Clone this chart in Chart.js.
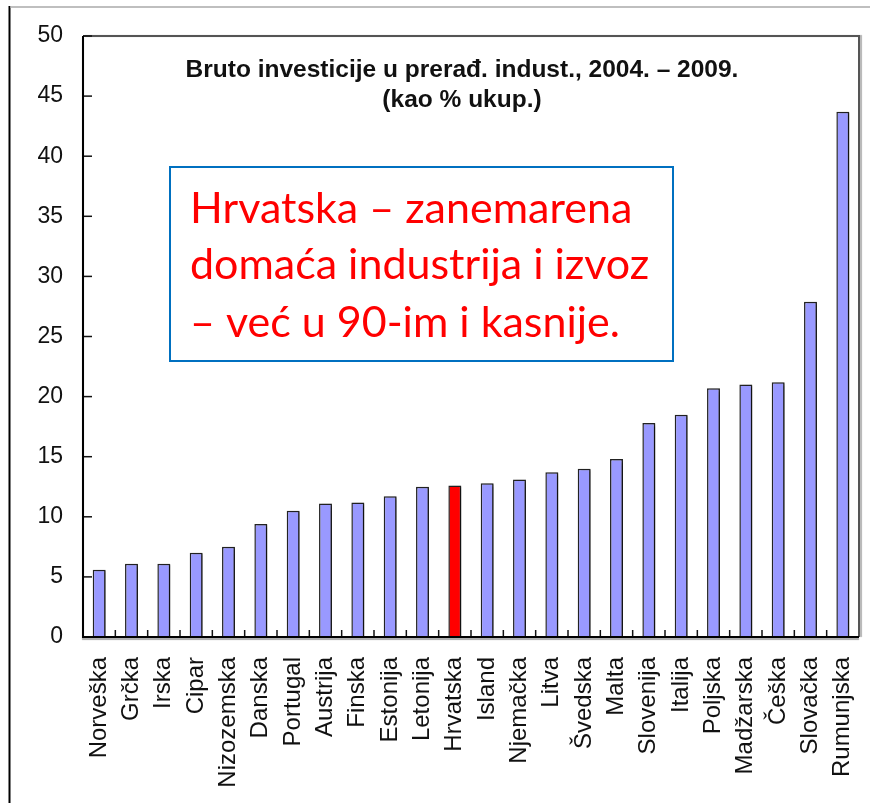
<!DOCTYPE html>
<html>
<head>
<meta charset="utf-8">
<script src="https://cdn.jsdelivr.net/npm/chart.js@4.4.1/dist/chart.umd.min.js"></script>
<style>
  html, body { margin: 0; padding: 0; background: #fff; }
  canvas { display: block; }
</style>
</head>
<body>
<canvas id="chart" width="870" height="803"></canvas>
<script>
// Bruto investicije u prerađivačku industriju, 2004. - 2009. (% ukupnih investicija)
const zemlje = ['Norveška', 'Grčka', 'Irska', 'Cipar', 'Nizozemska', 'Danska', 'Portugal', 'Austrija',
  'Finska', 'Estonija', 'Letonija', 'Hrvatska', 'Island', 'Njemačka', 'Litva', 'Švedska', 'Malta',
  'Slovenija', 'Italija', 'Poljska', 'Madžarska', 'Češka', 'Slovačka', 'Rumunjska'];
const udio = [5.6, 6.1, 6.1, 7.0, 7.5, 9.4, 10.5, 11.1, 11.2, 11.7, 12.5, 12.6, 12.8, 13.1, 13.7,
  14.0, 14.8, 17.8, 18.5, 20.7, 21.0, 21.2, 27.9, 43.7];
const yOznake = [0, 5, 10, 15, 20, 25, 30, 35, 40, 45, 50];
const naslov = ['Bruto investicije u prerađ. indust., 2004. – 2009.', '(kao % ukup.)'];
const poruka = ['Hrvatska – zanemarena', 'domaća industrija i izvoz', '– već u 90-im i kasnije.'];
const istaknuta = 'Hrvatska';

const boje = zemlje.map(z => z === istaknuta ? '#FF0000' : '#9999FF');

// okvir, unutarnje crtice, sjena stupaca, naslov i okvir s porukom
const ukrasi = {
  id: 'ukrasi',
  beforeDatasetsDraw(chart) {
    const { ctx, chartArea: a, scales: { x, y } } = chart;
    ctx.save();
    // rub slajda
    ctx.strokeStyle = '#000';
    ctx.lineWidth = 2;
    ctx.beginPath();
    ctx.moveTo(9.5, 6);
    ctx.lineTo(9.5, 803);
    ctx.stroke();
    ctx.strokeStyle = '#aaa';
    ctx.lineWidth = 1.5;
    ctx.beginPath();
    ctx.moveTo(10, 7);
    ctx.lineTo(870, 7);
    ctx.stroke();

    // gornji i desni rub grafa
    ctx.shadowColor = 'rgba(0,0,0,0.3)';
    ctx.shadowOffsetX = 2;
    ctx.shadowBlur = 1;
    ctx.strokeStyle = '#555';
    ctx.lineWidth = 2;
    ctx.beginPath();
    ctx.moveTo(a.left, a.top);
    ctx.lineTo(a.right, a.top);
    ctx.lineTo(a.right, a.bottom);
    ctx.stroke();
    ctx.shadowColor = 'transparent';

    // crtice prema unutra
    ctx.strokeStyle = '#111';
    ctx.lineWidth = 1.5;
    yOznake.forEach(v => {
      const py = y.getPixelForValue(v);
      ctx.beginPath();
      ctx.moveTo(a.left, py);
      ctx.lineTo(a.left + 9, py);
      ctx.stroke();
    });
    for (let i = 1; i < zemlje.length; i++) {
      const px = (x.getPixelForValue(i - 1) + x.getPixelForValue(i)) / 2;
      ctx.beginPath();
      ctx.moveTo(px, a.bottom);
      ctx.lineTo(px, a.bottom - 7);
      ctx.stroke();
    }
    ctx.restore();

    ctx.save();
    ctx.shadowColor = 'rgba(0,0,0,0.45)';
    ctx.shadowOffsetX = 3;
    ctx.shadowOffsetY = 1;
    ctx.shadowBlur = 2;
  },
  afterDatasetsDraw(chart) {
    const { ctx, chartArea: a } = chart;
    ctx.restore();
    // osi
    ctx.save();
    ctx.shadowColor = 'rgba(0,0,0,0.35)';
    ctx.shadowOffsetY = 2;
    ctx.shadowBlur = 1;
    ctx.strokeStyle = '#000';
    ctx.lineWidth = 2;
    ctx.beginPath();
    ctx.moveTo(a.left, a.top);
    ctx.lineTo(a.left, a.bottom);
    ctx.lineTo(a.right, a.bottom);
    ctx.stroke();
    ctx.restore();
  },
  afterDraw(chart) {
    const { ctx, chartArea: a } = chart;
    ctx.save();
    ctx.fillStyle = '#111';
    ctx.textAlign = 'center';
    ctx.textBaseline = 'alphabetic';
    ctx.font = 'bold 24.5px "Liberation Sans", Arial, sans-serif';
    ctx.fillText(naslov[0], 462, 77);
    ctx.fillText(naslov[1], 462, 107);

    ctx.fillStyle = '#fff';
    ctx.fillRect(170, 167, 503, 194);
    ctx.strokeStyle = '#0070C0';
    ctx.lineWidth = 2;
    ctx.strokeRect(170, 167, 503, 194);

    ctx.fillStyle = '#FF0000';
    ctx.textAlign = 'left';
    ctx.font = '43px Lato, "Noto Sans", sans-serif';
    const baze = [223, 279, 337];
    poruka.forEach((red, i) => ctx.fillText(red, 190, baze[i]));
    ctx.restore();
  }
};

const ctx = document.getElementById('chart').getContext('2d');
new Chart(ctx, {
  type: 'bar',
  data: {
    labels: zemlje,
    datasets: [{
      data: udio,
      backgroundColor: boje,
      borderColor: '#222',
      borderWidth: 1.5,
      barPercentage: 0.4,
      categoryPercentage: 1.0
    }]
  },
  options: {
    responsive: false,
    animation: false,
    layout: { padding: { top: 36, right: 11, left: 0, bottom: 0 } },
    plugins: {
      legend: { display: false },
      tooltip: { enabled: false }
    },
    scales: {
      x: {
        grid: { display: false, drawTicks: false },
        border: { display: false },
        ticks: {
          autoSkip: false,
          minRotation: 90,
          maxRotation: 90,
          padding: 20,
          color: '#111',
          font: { family: '"Liberation Sans", Arial, sans-serif', size: 24 }
        },
        afterFit(scale) {
          scale.height = 166;
          scale.paddingLeft = 0;
          scale.paddingRight = 0;
        }
      },
      y: {
        min: 0,
        max: 50,
        grid: { display: false, drawTicks: false },
        border: { display: false },
        afterBuildTicks(scale) { scale.ticks = yOznake.map(v => ({ value: v })); },
        ticks: {
          padding: 20,
          color: '#111',
          font: { family: '"Liberation Sans", Arial, sans-serif', size: 23 }
        },
        afterFit(scale) {
          scale.width = 83;
          scale.paddingTop = 0;
          scale.paddingBottom = 0;
        }
      }
    }
  },
  plugins: [ukrasi]
});
</script>
</body>
</html>
